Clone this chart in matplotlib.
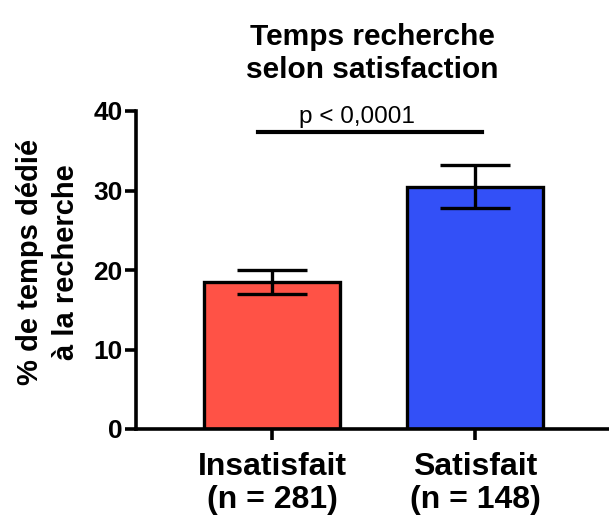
import matplotlib
matplotlib.use('Agg')
import matplotlib.pyplot as plt

plt.rcParams['font.family'] = ['Liberation Sans', 'DejaVu Sans']

groups = ['Insatisfait\n(n = 281)', 'Satisfait\n(n = 148)']
means = [18.5, 30.5]
errors = [1.5, 2.75]
colors = ['#FF5246', '#3350F7']
p_text = 'p < 0,0001'

fig = plt.figure(figsize=(6.09, 5.16), dpi=100)
ax = fig.add_axes([136 / 609, 1 - 429 / 516, 1 - 136 / 609, (429 - 111) / 516])

x = [0, 1]
ax.bar(x, means, width=0.67, color=colors, edgecolor='black', linewidth=2.4, zorder=2)
ax.errorbar(x, means, yerr=errors, fmt='none', ecolor='black', elinewidth=2.4,
            capsize=25, capthick=2.4, zorder=3)

# barre de significativité
ax.plot([-0.07, 1.03], [37.3, 37.3], color='black', linewidth=3, clip_on=False)
ax.text(0.414, 38.5, p_text, ha='center', va='baseline', fontsize=17.5)

ax.set_xlim(-0.672, 1.658)
ax.set_ylim(0, 40)
ax.set_yticks([0, 10, 20, 30, 40])
ax.set_xticks(x)
ax.set_xticklabels(groups, fontsize=23, fontweight='bold', linespacing=1.15)
for lab in ax.get_yticklabels():
    lab.set_fontsize(19)
    lab.set_fontweight('bold')

ax.spines['top'].set_visible(False)
ax.spines['right'].set_visible(False)
ax.spines['left'].set_linewidth(2.6)
ax.spines['bottom'].set_linewidth(2.6)
ax.tick_params(axis='y', length=8, width=2.6, pad=1.5)
ax.tick_params(axis='x', length=8, width=2.6, pad=8.5)

fig.text(372 / 609, 1 - 53.5 / 516, 'Temps recherche\nselon satisfaction', ha='center', va='center',
         fontsize=21.5, fontweight='bold', linespacing=1.25)
fig.text(48 / 609, 1 - 262 / 516, '% de temps dédié\nà la recherche', ha='center', va='center',
         rotation=90, fontsize=21, fontweight='bold', linespacing=1.36, multialignment='center')

fig.savefig('out.png', dpi=100)
